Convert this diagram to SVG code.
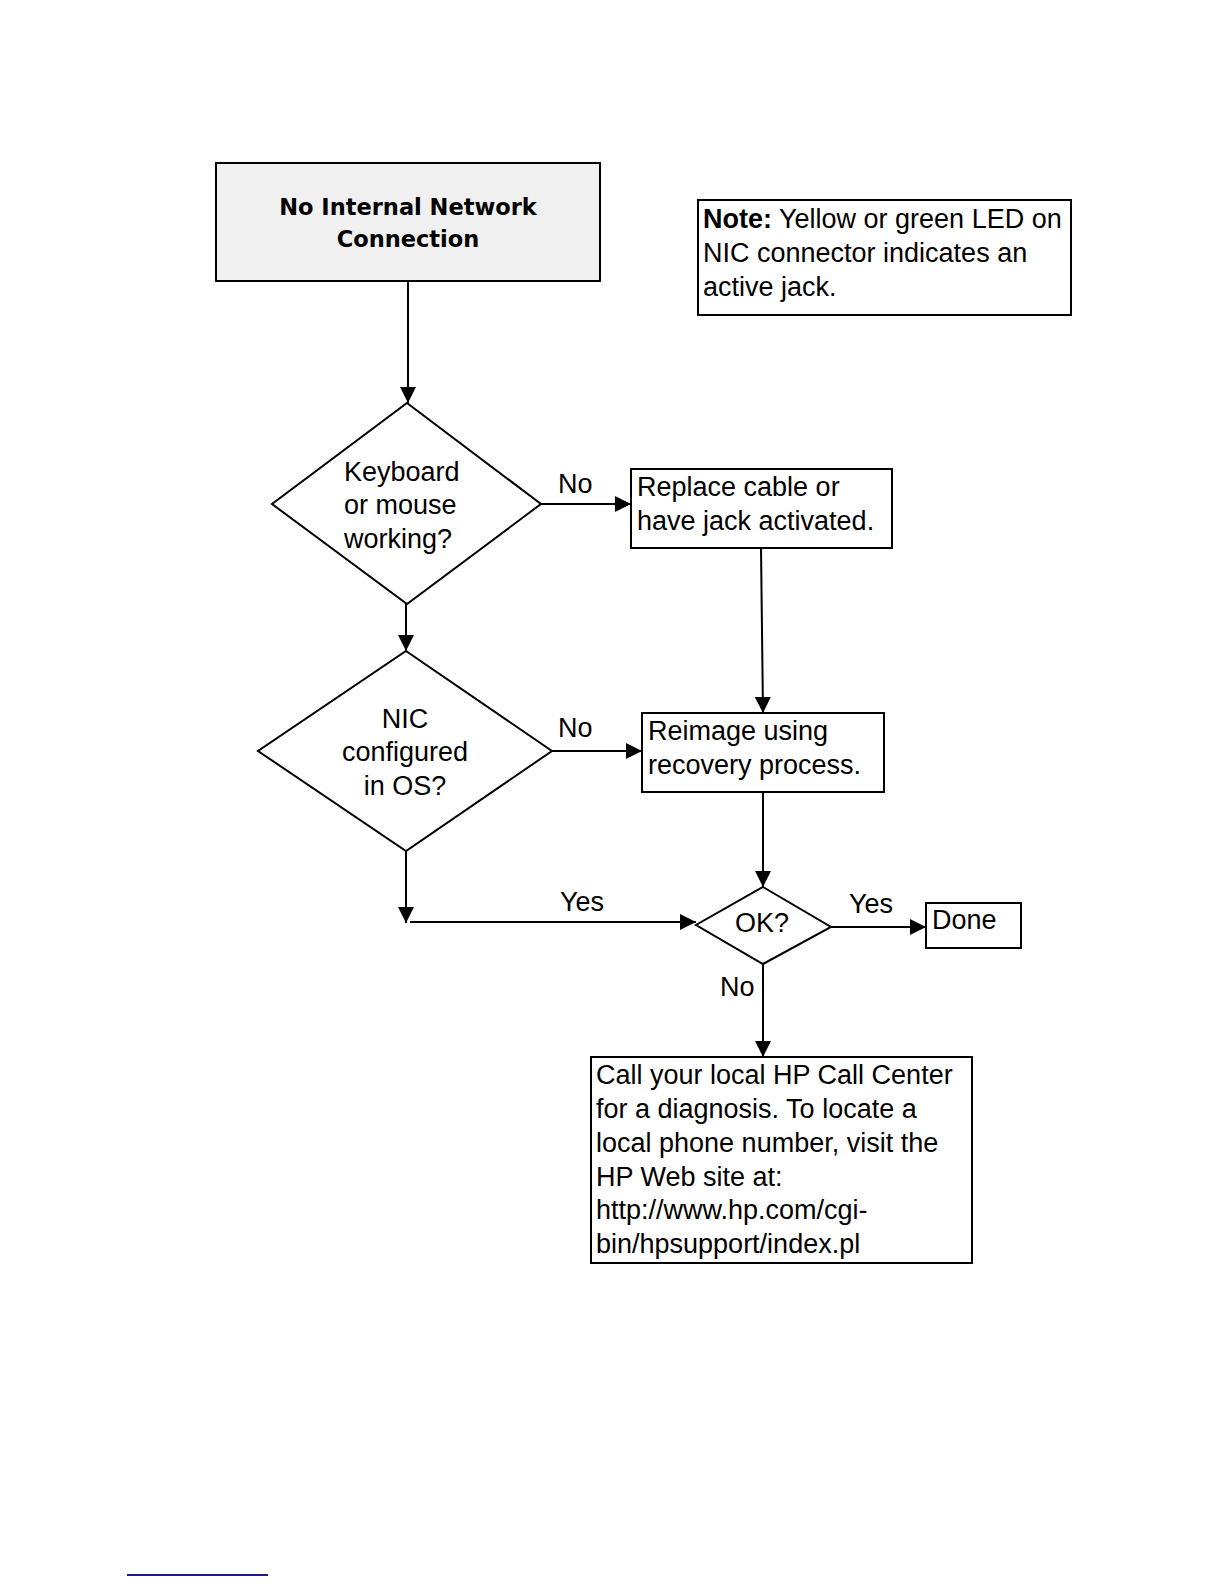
<svg xmlns="http://www.w3.org/2000/svg" width="1224" height="1584" viewBox="0 0 1224 1584">
<style>
.box{fill:#fff;stroke:#000;stroke-width:2}
.t{font-family:"Liberation Sans",Arial,sans-serif;font-size:27px;fill:#000}
.b{font-weight:bold}
.title{font-family:"DejaVu Sans",Verdana,sans-serif;font-weight:bold;font-size:22.5px;fill:#000;text-anchor:middle}
.c{stroke:#000;stroke-width:2;fill:none}
</style>
<defs>
<marker id="ah" viewBox="0 0 10 10" refX="10" refY="5" markerWidth="18" markerHeight="16" markerUnits="userSpaceOnUse" orient="auto">
<path d="M0,0 L10,5 L0,10 z" fill="#000"/>
</marker>
</defs>
<rect width="1224" height="1584" fill="#fff"/>
<g id="connectors">
<line class="c" x1="408" y1="281" x2="408" y2="403" stroke-width="3" marker-end="url(#ah)"/>
<line class="c" x1="541" y1="504" x2="631" y2="504" marker-end="url(#ah)"/>
<line class="c" x1="406" y1="604" x2="406" y2="651" marker-end="url(#ah)"/>
<line class="c" x1="552" y1="751" x2="642" y2="751" marker-end="url(#ah)"/>
<line class="c" x1="761" y1="548" x2="763" y2="713" marker-end="url(#ah)"/>
<line class="c" x1="763" y1="792" x2="763" y2="887" marker-end="url(#ah)"/>
<line class="c" x1="406" y1="851" x2="406" y2="923" marker-end="url(#ah)"/>
<line class="c" x1="410" y1="922" x2="696" y2="922" marker-end="url(#ah)"/>
<line class="c" x1="831" y1="927" x2="926" y2="927" marker-end="url(#ah)"/>
<line class="c" x1="763" y1="964" x2="763" y2="1057" marker-end="url(#ah)"/>
<text class="t" x="558" y="493">No</text>
<text class="t" x="558" y="737">No</text>
<text class="t" x="560" y="911">Yes</text>
<text class="t" x="849" y="913">Yes</text>
<text class="t" x="720" y="996">No</text>
</g>
<g id="start">
<rect x="216" y="163" width="384" height="118" fill="#f0f0f0" stroke="#000" stroke-width="2"/>
<text class="title" x="408" y="215">No Internal Network</text>
<text class="title" x="408" y="247">Connection</text>
</g>
<g id="note">
<rect class="box" x="698" y="200" width="373" height="115"/>
<text class="t" x="703" y="228"><tspan class="b">Note:</tspan> Yellow or green LED on</text>
<text class="t" x="703" y="262">NIC connector indicates an</text>
<text class="t" x="703" y="296">active jack.</text>
</g>
<g id="keyboard">
<polygon class="box" points="407,403 541,504 407,604 272,504"/>
<text class="t" x="344" y="481">Keyboard</text>
<text class="t" x="344" y="514">or mouse</text>
<text class="t" x="344" y="548">working?</text>
</g>
<g id="replace">
<rect class="box" x="631" y="469" width="261" height="79"/>
<text class="t" x="637" y="496">Replace cable or</text>
<text class="t" x="637" y="530">have jack activated.</text>
</g>
<g id="nic">
<polygon class="box" points="406,651 552,751 406,851 258,751"/>
<text class="t" x="405" y="728" text-anchor="middle">NIC</text>
<text class="t" x="405" y="761" text-anchor="middle">configured</text>
<text class="t" x="405" y="795" text-anchor="middle">in OS?</text>
</g>
<g id="reimage">
<rect class="box" x="642" y="713" width="242" height="79"/>
<text class="t" x="648" y="740">Reimage using</text>
<text class="t" x="648" y="774">recovery process.</text>
</g>
<g id="ok">
<polygon class="box" points="763,887 831,927 763,964 696,925"/>
<text class="t" x="762" y="932" text-anchor="middle">OK?</text>
</g>
<g id="done">
<rect class="box" x="926" y="903" width="95" height="45"/>
<text class="t" x="932" y="929">Done</text>
</g>
<g id="call">
<rect class="box" x="591" y="1057" width="381" height="206"/>
<text class="t" x="596" y="1084">Call your local HP Call Center</text>
<text class="t" x="596" y="1118">for a diagnosis. To locate a</text>
<text class="t" x="596" y="1152">local phone number, visit the</text>
<text class="t" x="596" y="1186">HP Web site at:</text>
<text class="t" x="596" y="1219">http://www.hp.com/cgi-</text>
<text class="t" x="596" y="1253">bin/hpsupport/index.pl</text>
</g>
<line x1="127" y1="1575" x2="268" y2="1575" stroke="#1a1a8c" stroke-width="2"/>
</svg>
